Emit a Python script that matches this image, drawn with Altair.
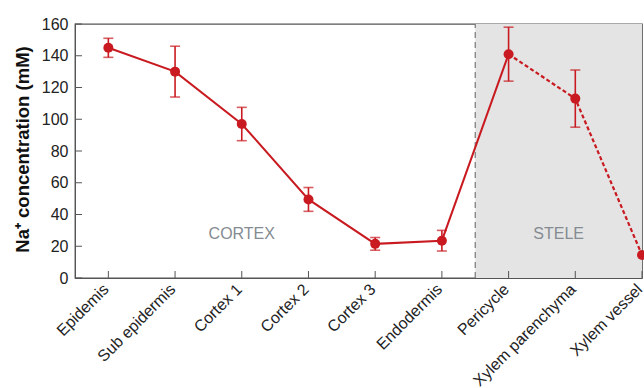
import altair as alt
import pandas as pd

# Na+ concentration across root tissues, from outside (epidermis) to the xylem
tissues = ["Epidemis", "Sub epidermis", "Cortex 1", "Cortex 2", "Cortex 3",
           "Endodermis", "Pericycle", "Xylem parenchyma", "Xylem vessel"]
na_mean = [145, 130, 97, 49.5, 21.5, 23.5, 141, 113, 14.5]
na_err = [6, 16, 10.5, 7.5, 4, 6.5, 17, 18, None]
y_ticks = [0, 20, 40, 60, 80, 100, 120, 140, 160]

RED = "#c81a20"
FRAME = "#555555"

idx = list(range(len(tissues)))
df = pd.DataFrame({"i": idx, "tissue": tissues, "mean": na_mean, "err": na_err})
df["lo"] = df["mean"] - df["err"]
df["hi"] = df["mean"] + df["err"]
eb = df.dropna(subset=["err"])

peri = tissues.index("Pericycle")
solid = df[df["i"] <= peri]
dashed = df[df["i"] >= peri]

x_max = len(tissues) - 1
stele_start = peri - 0.5
x_scale = alt.Scale(domain=[-0.5, x_max], nice=False, zero=False)
y_scale = alt.Scale(domain=[0, 160], nice=False)

label_expr = "[" + ",".join(f"'{t}'" for t in tissues) + "][datum.value]"

x_axis = alt.Axis(values=idx, labelExpr=label_expr, labelAngle=-45, labelAlign="right",
                  labelBaseline="bottom", labelPadding=14, labelOffset=3,
                  ticks=False, title=None,
                  labelFontSize=16, labelColor="#222222", labelFont="Liberation Sans",
                  domainColor=FRAME, grid=False, labelOverlap=False, labelBound=False)
y_axis = alt.Axis(values=y_ticks, ticks=False, labelPadding=7, labelFontSize=16,
                  labelColor="#222222", labelFont="Liberation Sans", grid=False,
                  labelOverlap=False, domainColor=FRAME,
                  title="Na⁺ concentration (mM)", titleY=125,
                  titleFontSize=18.5, titleFont="Liberation Sans", titleFontWeight="bold",
                  titleColor="#111111", titlePadding=9)


def X(field):
    return alt.X(field, scale=x_scale, axis=x_axis)


def Y(field):
    return alt.Y(field, scale=y_scale, axis=y_axis)


region = pd.DataFrame({"x": [stele_start], "x2": [x_max], "y": [0], "y2": [160]})
shade = alt.Chart(region).mark_rect(color="#e4e4e4").encode(
    x=X("x:Q"), x2="x2:Q", y=Y("y:Q"), y2="y2:Q")

divider = alt.Chart(region).mark_rule(color="#777777", strokeWidth=1.2,
                                      strokeDash=[6, 4]).encode(
    x=X("x:Q"), y=Y("y:Q"), y2="y2:Q")

# inward tick marks
yt = alt.Chart(pd.DataFrame({"v": y_ticks})).mark_rule(color=FRAME, strokeWidth=1).encode(
    y=Y("v:Q"), x=alt.value(0), x2=alt.value(7))
xt = alt.Chart(pd.DataFrame({"i": idx})).mark_rule(color=FRAME, strokeWidth=1).encode(
    x=X("i:Q"), y=alt.value(254), y2=alt.value(247))

line_solid = alt.Chart(solid).mark_line(color=RED, strokeWidth=2).encode(
    x=X("i:Q"), y=Y("mean:Q"))
line_dashed = alt.Chart(dashed).mark_line(color=RED, strokeWidth=2.2,
                                          strokeDash=[4, 2.5]).encode(
    x=X("i:Q"), y=Y("mean:Q"))

bars = alt.Chart(eb).mark_rule(color=RED, strokeWidth=1.6).encode(
    x=X("i:Q"), y=Y("lo:Q"), y2="hi:Q")
cap_lo = alt.Chart(eb).mark_tick(color=RED, orient="horizontal", size=10,
                                 thickness=1.6).encode(x=X("i:Q"), y=Y("lo:Q"))
cap_hi = alt.Chart(eb).mark_tick(color=RED, orient="horizontal", size=10,
                                 thickness=1.6).encode(x=X("i:Q"), y=Y("hi:Q"))

points = alt.Chart(df).mark_circle(color=RED, size=100, opacity=1).encode(
    x=X("i:Q"), y=Y("mean:Q"))

zones = pd.DataFrame({"x": [2.0, (stele_start + x_max) / 2], "y": [28, 28],
                      "t": ["CORTEX", "STELE"]})
zone_text = alt.Chart(zones).mark_text(fontSize=16, color="#858b92",
                                       font="Liberation Sans").encode(
    x=X("x:Q"), y=Y("y:Q"), text="t:N")

chart = alt.layer(shade, divider, yt, xt, zone_text, line_solid, line_dashed,
                  bars, cap_lo, cap_hi, points).properties(
    width=567, height=254,
    autosize=alt.AutoSizeParams(type="none"),
    padding={"left": 75, "top": 24, "right": 2, "bottom": 110},
    background="white",
).configure_view(stroke=FRAME, strokeWidth=1.3
).configure_axis(labelOverlap=False)

chart.save("out.html", embed_options={"renderer": "svg", "actions": False})
